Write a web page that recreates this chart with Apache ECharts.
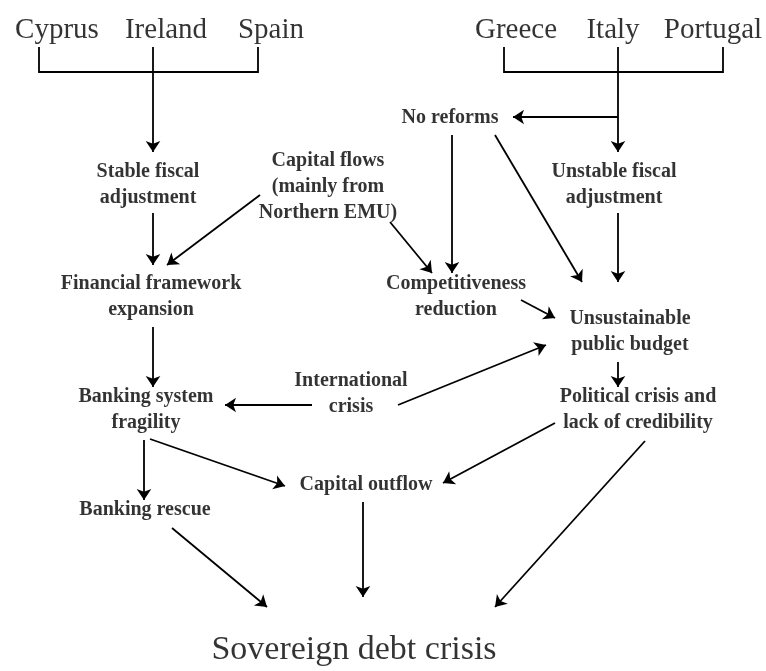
<!DOCTYPE html>
<html>
<head>
<meta charset="utf-8">
<script src="https://cdn.jsdelivr.net/npm/echarts@6/dist/echarts.min.js"></script>
<style>
  html, body { margin: 0; padding: 0; background: #fff; }
  #chart { width: 766px; height: 671px; }
</style>
</head>
<body>
<div id="chart"></div>
<script>
// countries on top (plain serif)
const countryNames = ['Cyprus', 'Ireland', 'Spain', 'Greece', 'Italy', 'Portugal']
const countryX = [57, 166, 271, 516, 613, 713]
const countryY = [30, 30, 30, 30, 30, 30]

// bold boxes of the diagram
const nodeNames = [
  'Stable fiscal\nadjustment',
  'Capital flows\n(mainly from\nNorthern EMU)',
  'No reforms',
  'Unstable fiscal\nadjustment',
  'Financial framework\nexpansion',
  'Competitiveness\nreduction',
  'Unsustainable\npublic budget',
  'International\ncrisis',
  'Banking system\nfragility',
  'Political crisis and\nlack of credibility',
  'Capital outflow',
  'Banking rescue'
]
const nodeX = [148, 328, 450, 614, 151, 456, 630, 351, 146, 638, 366, 145]
const nodeY = [185, 187, 118, 185, 297, 297, 332, 394, 410, 410, 485, 510]

const finalName = ['Sovereign debt crisis']
const finalX = [354]
const finalY = [650]

// brackets under the country names
const brackets = [
  [[39, 47], [39, 72], [258, 72], [258, 47]],
  [[504, 47], [504, 72], [723, 72], [723, 47]]
]

// arrows: [from, to]
const arrows = [
  [[153, 47], [153, 152]],
  [[618, 47], [618, 152]],
  [[618, 117], [513, 117]],
  [[153, 213], [153, 265]],
  [[260, 195], [167, 265]],
  [[390, 222], [432, 273]],
  [[452, 135], [452, 273]],
  [[495, 135], [582, 282]],
  [[618, 213], [618, 282]],
  [[521, 300], [555, 318]],
  [[398, 405], [546, 345]],
  [[312, 405], [225, 405]],
  [[153, 327], [153, 387]],
  [[618, 362], [618, 387]],
  [[144, 440], [144, 500]],
  [[150, 439], [285, 486]],
  [[555, 423], [443, 483]],
  [[645, 441], [495, 607]],
  [[363, 502], [363, 597]],
  [[172, 528], [267, 607]]
]

const serif = 'Liberation Serif'

function points(names, xs, ys) {
  return names.map((n, i) => ({ name: n, value: [xs[i], ys[i]] }))
}

const chart = echarts.init(document.getElementById('chart'))
chart.setOption({
  animation: false,
  backgroundColor: '#fff',
  grid: { left: 0, right: 0, top: 0, bottom: 0 },
  xAxis: { type: 'value', min: 0, max: 766, show: false },
  yAxis: { type: 'value', min: 0, max: 671, inverse: true, show: false },
  series: [
    {
      type: 'lines',
      coordinateSystem: 'cartesian2d',
      polyline: true,
      silent: true,
      symbol: 'none',
      lineStyle: { color: '#000', width: 1.8, opacity: 1 },
      data: brackets.map(c => ({ coords: c }))
    },
    {
      type: 'lines',
      coordinateSystem: 'cartesian2d',
      silent: true,
      symbol: ['none', 'arrow'],
      symbolSize: 11,
      lineStyle: { color: '#000', width: 1.8, opacity: 1 },
      data: arrows.map(c => ({ coords: c }))
    },
    {
      type: 'scatter',
      symbolSize: 0,
      silent: true,
      label: {
        show: true,
        position: 'inside',
        formatter: p => p.name,
        fontFamily: serif,
        fontSize: 29,
        color: '#000'
      },
      data: points(countryNames, countryX, countryY)
    },
    {
      type: 'scatter',
      symbolSize: 0,
      silent: true,
      label: {
        show: true,
        position: 'inside',
        formatter: p => p.name,
        fontFamily: serif,
        fontWeight: 'bold',
        fontSize: 20,
        lineHeight: 26,
        align: 'center',
        color: '#000'
      },
      data: points(nodeNames, nodeX, nodeY)
    },
    {
      type: 'scatter',
      symbolSize: 0,
      silent: true,
      label: {
        show: true,
        position: 'inside',
        formatter: p => p.name,
        fontFamily: serif,
        fontSize: 34,
        color: '#000'
      },
      data: points(finalName, finalX, finalY)
    }
  ]
})
</script>
</body>
</html>
